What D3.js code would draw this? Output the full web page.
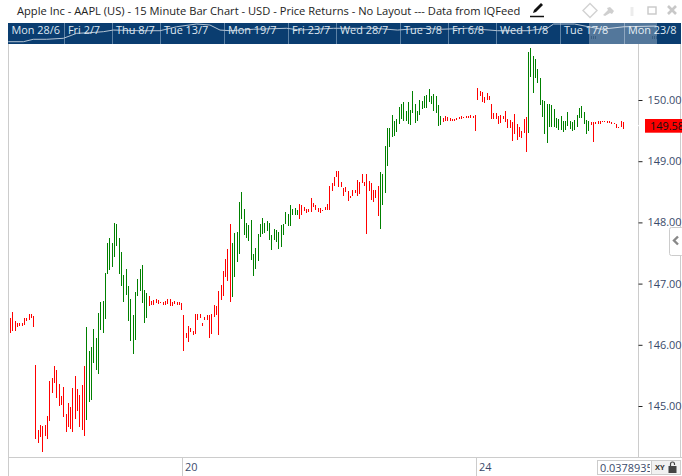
<!DOCTYPE html>
<html><head><meta charset="utf-8">
<script src="https://cdn.jsdelivr.net/npm/d3@7"></script>
<style>html,body{margin:0;padding:0;background:#fff;overflow:hidden}svg{display:block}text{font-family:"Open Sans",sans-serif}</style>
</head><body><svg id="c" width="682" height="476"></svg>
<script>
const titleText = "Apple Inc - AAPL (US) - 15 Minute Bar Chart - USD - Price Returns - No Layout --- Data from IQFeed";
const highs = [146.444,146.536,146.389,146.356,146.356,146.356,146.444,146.444,146.504,146.504,146.471,145.670,144.608,144.690,144.673,144.690,144.837,145.409,145.458,145.654,145.588,145.360,145.164,145.311,144.869,145.049,144.984,145.294,145.490,145.278,145.180,145.343,145.654,
146.291,145.899,145.964,146.258,146.111,146.520,146.700,146.716,147.174,147.664,147.745,147.664,147.991,147.974,147.745,147.517,147.141,147.239,146.961,146.749,146.487,146.863,147.075,147.239,147.304,146.896,146.847,
146.798,146.716,146.732,146.749,146.732,146.699,146.699,146.715,146.748,146.748,146.699,146.715,146.699,146.699,146.683,146.487,146.192,146.307,146.274,146.225,146.503,146.503,146.503,146.356,146.454,146.487,146.487,146.503,146.650,146.634,146.879,146.977,147.206,147.402,147.565,147.974,
147.663,147.827,147.843,148.333,148.496,148.219,147.990,147.957,148.039,147.483,147.581,147.810,147.974,148.072,147.990,148.023,147.990,147.794,147.892,147.876,147.843,147.957,147.974,148.170,148.137,148.284,148.219,148.235,148.202,
148.300,148.284,148.251,148.219,148.219,148.398,148.317,148.284,148.235,148.235,148.202,148.251,148.300,148.595,148.644,148.742,148.840,148.840,148.660,148.562,148.578,148.513,148.431,148.529,148.529,148.693,148.660,148.791,148.660,148.791,148.676,148.644,148.529,148.529,148.595,
148.823,148.791,149.248,149.542,149.542,149.754,149.656,149.689,149.885,149.934,149.967,149.820,149.967,149.836,150.147,149.934,149.820,150.000,149.983,150.065,150.081,150.179,150.065,150.098,150.065,149.918,149.738,
149.705,149.738,149.722,149.705,149.689,149.689,149.705,149.722,149.738,149.722,149.738,149.738,149.754,149.738,149.754,150.196,150.147,150.130,150.049,150.114,150.065,149.934,149.787,149.787,149.738,149.754,149.738,149.820,149.689,149.673,149.640,149.771,149.607,149.558,149.493,149.689,149.722,
150.784,150.849,150.719,150.670,150.506,150.359,150.000,149.983,149.934,149.934,149.918,149.852,149.705,149.689,149.738,149.656,149.656,149.803,149.656,149.640,149.673,149.754,149.869,149.901,149.803,149.673,149.656,
149.640,149.640,149.640,149.656,149.656,149.656,149.656,149.656,149.656,149.640,149.624,149.607,149.558,149.656,149.640];
const lows = [146.193,146.226,146.226,146.291,146.307,146.307,146.324,146.389,146.405,146.438,146.291,144.461,144.396,144.494,144.248,144.510,144.461,144.755,145.213,145.376,145.131,145.000,145.016,144.820,144.575,144.657,144.624,144.575,144.788,144.918,144.657,144.608,144.510,
144.771,145.065,145.098,145.703,145.588,145.523,146.242,146.193,146.422,147.157,147.223,147.272,147.435,147.615,147.157,146.961,146.700,146.814,146.389,146.062,145.850,146.079,146.798,146.879,146.683,146.356,146.438,
146.634,146.651,146.651,146.683,146.667,146.683,146.650,146.650,146.666,146.634,146.634,146.666,146.650,146.650,146.568,145.898,146.111,146.045,146.209,146.160,146.176,146.405,146.438,146.307,146.405,146.405,146.111,146.176,146.454,146.487,146.160,146.732,146.797,147.108,147.042,146.699,
146.781,147.108,147.353,147.483,148.055,147.794,147.745,147.696,147.385,147.124,147.238,147.369,147.761,147.810,147.827,147.859,147.712,147.549,147.712,147.679,147.565,147.598,147.794,147.974,147.941,147.941,148.121,148.121,148.121,
148.055,148.121,148.186,148.153,148.170,148.170,148.251,148.202,148.170,148.153,148.186,148.202,148.202,148.202,148.513,148.595,148.742,148.578,148.578,148.431,148.496,148.349,148.398,148.431,148.480,148.431,148.464,148.644,148.595,147.810,148.513,148.366,148.333,148.398,148.104,
147.892,148.284,148.480,148.921,149.232,149.395,149.411,149.477,149.607,149.689,149.656,149.656,149.607,149.591,149.787,149.624,149.656,149.754,149.852,149.869,149.869,149.967,149.934,149.820,149.787,149.575,149.591,
149.640,149.656,149.656,149.656,149.656,149.656,149.673,149.689,149.689,149.705,149.705,149.705,149.705,149.705,149.493,150.000,150.065,149.967,149.951,150.000,150.000,149.689,149.689,149.689,149.607,149.624,149.689,149.640,149.542,149.542,149.330,149.444,149.346,149.395,149.379,149.460,149.150,
149.460,150.375,150.114,150.359,150.277,149.918,149.722,149.444,149.297,149.558,149.558,149.558,149.542,149.509,149.509,149.477,149.509,149.575,149.526,149.493,149.509,149.558,149.705,149.705,149.607,149.444,149.493,
149.591,149.313,149.607,149.607,149.607,149.640,149.640,149.624,149.624,149.607,149.607,149.542,149.542,149.558,149.526];
const trendRuns = [[33,"down"],[27,"up"],[36,"down"],[29,"up"],[35,"down"],[27,"up"],[37,"down"],[27,"up"],[15,"down"]];
const priceTicks = [145,146,147,148,149,150];
const lastPrice = 149.58;
const navLabels = ["Mon 28/6","Fri 2/7","Thu 8/7","Tue 13/7","Mon 19/7","Fri 23/7","Wed 28/7","Tue 3/8","Fri 6/8","Wed 11/8","Tue 17/8","Mon 23/8"];
const navSessions = [0,4,7,10,14,18,21,25,28,31,35,39];
const navT = [0.52,1.46,2.08,2.92,3.96,4.79,5.62,6.46,7.08,8.75,10,11.04,12.29,13.12,13.75,14.38,15.83,17.92,18.75,20.83,23.4,24.85,26.3,27.56,29.2,31.1,33,34.2,34.6,35.9,37.6,39,41];
const navP = [133.9,133.9,136.1,136.1,137,141.5,142.1,143,144.5,143.9,143.9,147.5,150,149.1,144.5,143.9,145.2,146.1,144.5,146.1,146.1,144.5,146.1,145.2,146.1,143.9,143.9,146.1,150,150,145.2,147.5,148.1];
const timeLabels = ["20","24"];

const colors = {down:"#ff0000", up:"#008000"};
const grey = "#cccccc";
const fs = 10.9;
const trend = trendRuns.flatMap(([n,t]) => d3.range(n).map(() => t));
const svg = d3.select("#c");

const x = d3.scaleLinear().domain([0, highs.length-1]).range([10.5, 623.5]);
const y = d3.scaleLinear().domain([145,150]).range([406,100]);
const px = i => Math.floor(x(i));

// title
svg.append("text").attr("x",17).attr("y",14.5).attr("font-size",11.15).attr("fill","#222").text(titleText);

// navigator strip
const navTop=23, navBottom=44;
const nx = d3.scaleLinear().domain([0,39]).range([0,624]);
const ny = d3.scaleLinear().domain([134,150]).range([41.6,24]);
svg.append("rect").attr("x",8).attr("y",navTop).attr("width",673).attr("height",navBottom-navTop).attr("fill","#0a3d70");
svg.selectAll("line.sep").data(navSessions.slice(1)).join("line").attr("class","sep")
  .attr("x1",d=>Math.round(nx(d))+.5).attr("x2",d=>Math.round(nx(d))+.5).attr("y1",navTop).attr("y2",navBottom)
  .attr("stroke","#5d82a6");
svg.append("path").attr("d",d3.line().x((d,i)=>nx(navT[i])).y((d,i)=>ny(navP[i]))(navT))
  .attr("fill","none").attr("stroke","#b4c4d4").attr("stroke-width",1);
svg.selectAll("text.nav").data(navLabels).join("text").attr("class","nav")
  .attr("x",(d,i)=>i===0?11.5:nx(navSessions[i])+4).attr("y",30.2).attr("dy",".35em")
  .attr("font-size",fs).attr("fill","#dfe8f1").text(d=>d);
svg.append("rect").attr("x",589).attr("y",navTop).attr("width",68).attr("height",navBottom-navTop).attr("fill","#fff").attr("opacity",.3);
[591,593,595,652,654,656].forEach(h=>svg.append("line").attr("x1",h+.5).attr("x2",h+.5).attr("y1",36).attr("y2",39).attr("stroke","#3b5f83"));

// frame lines
const frame=(a,b,c,d)=>svg.append("line").attr("x1",a).attr("y1",b).attr("x2",c).attr("y2",d).attr("stroke",grey).attr("stroke-width",1);
frame(8.5,44,8.5,476);
frame(638.5,44,638.5,458);
frame(680.5,44,680.5,458);
frame(8,457.5,682,457.5);
frame(182.5,458,182.5,476);
frame(476.5,458,476.5,476);

// bars
svg.append("g").selectAll("rect").data(highs).join("rect")
  .attr("x",(d,i)=>px(i)).attr("width",1)
  .attr("y",d=>y(d)).attr("height",(d,i)=>Math.max(1,y(lows[i])-y(d)))
  .attr("fill",(d,i)=>colors[trend[i]]).attr("shape-rendering","crispEdges");

// price axis
const axis = d3.axisRight(y).tickValues(priceTicks).tickSize(4).tickPadding(5).tickFormat(d3.format(".2f"));
const gA = svg.append("g").attr("transform","translate(638.5,0)").call(axis);
gA.select(".domain").remove();
gA.selectAll(".tick line").attr("stroke","#222");
gA.selectAll(".tick text").attr("font-size",fs).attr("fill","#3a4a6a").style("font-family",'"Open Sans",sans-serif').attr("x",9);

// last price badge
const yLast = y(lastPrice);
svg.append("line").attr("x1",638).attr("x2",642).attr("y1",yLast).attr("y2",yLast).attr("stroke","#fff");
svg.append("rect").attr("x",645).attr("y",yLast-6.7).attr("width",37).attr("height",13.7).attr("fill","#ff0000");
svg.append("text").attr("x",650).attr("y",yLast+.3).attr("dy",".35em").attr("font-size",fs).attr("fill","#111").text(d3.format(".2f")(lastPrice));

// collapse tab
svg.append("rect").attr("x",669.5).attr("y",227.5).attr("width",14).attr("height",28).attr("rx",2).attr("fill","#fff").attr("stroke",grey);
svg.append("path").attr("d","M678 236.5l-4 4 4 4").attr("fill","none").attr("stroke","#888").attr("stroke-width",2.4);

// time labels
svg.selectAll("text.t").data(timeLabels).join("text").attr("class","t")
  .attr("x",(d,i)=>[185,479][i]).attr("y",467).attr("dy",".35em").attr("font-size",fs).attr("fill","#3a4a6a").text(d=>d);

// bottom-right control
svg.append("rect").attr("x",597.5).attr("y",460.5).attr("width",54).attr("height",14).attr("fill","#fff").attr("stroke",grey);
svg.append("defs").append("clipPath").attr("id","cp").append("rect").attr("x",598).attr("y",460).attr("width",52).attr("height",15);
svg.append("g").attr("clip-path","url(#cp)").append("text").attr("x",600).attr("y",468).attr("dy",".35em").attr("font-size",fs).attr("fill","#3a4a6a").text("0.0378935");
svg.append("rect").attr("x",651.5).attr("y",460.5).attr("width",29).attr("height",14).attr("fill","#f1f1f1").attr("stroke",grey);
svg.append("text").attr("x",655).attr("y",467.5).attr("dy",".35em").attr("font-size",7.5).attr("font-weight",700).attr("fill","#333").text("XY");
svg.append("rect").attr("x",668.5).attr("y",466).attr("width",8).attr("height",7).attr("fill","#444");
svg.append("path").attr("d","M670.5 466v-2a2 2 0 0 1 4 0v1").attr("fill","none").attr("stroke","#444").attr("stroke-width",1.2);

// header icons
svg.append("path").attr("d","M533 13l1-3 7-7 2 2-7 7z").attr("fill","#111");
svg.append("line").attr("x1",530).attr("x2",544).attr("y1",16.5).attr("y2",16.5).attr("stroke","#111").attr("stroke-width",1.5);
svg.append("path").attr("d","M590 3.5l7 7-7 7-7-7z").attr("fill","none").attr("stroke","#d2d2d2").attr("stroke-width",1.4);
svg.append("path").attr("d","M603 15l5-5-1-2 3-1 4 4-2 3-2-1-5 3z").attr("fill","#cfcfcf");
svg.append("path").attr("d","M632 7v9").attr("stroke","#ececec").attr("stroke-width",3);
svg.append("rect").attr("x",648).attr("y",7).attr("width",8).attr("height",7).attr("fill","none").attr("stroke","#c8c8c8").attr("stroke-width",1.4);
svg.append("path").attr("d","M668 6l8 8M676 6l-8 8").attr("stroke","#c8c8c8").attr("stroke-width",2.6);
</script></body></html>
